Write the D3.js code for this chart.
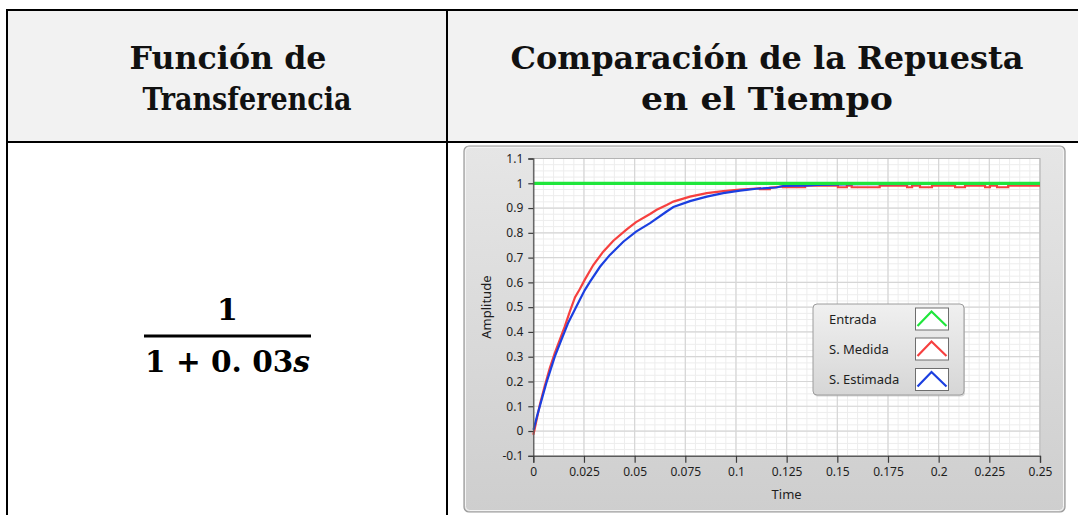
<!DOCTYPE html>
<html>
<head>
<meta charset="utf-8">
<script src="https://cdn.jsdelivr.net/npm/d3@7"></script>
<style>
  html, body { margin: 0; padding: 0; background: #fff; }
  svg { display: block; }
</style>
</head>
<body>
<svg id="c" width="1078" height="515"></svg>
<script>
// ---- table text ----
const headerLeft = ["Función de", "Transferencia"];
const headerRight = ["Comparación de la Repuesta", "en el Tiempo"];
const tfNumerator = "1";
const tfDenominator = ["1 + 0. 03", "s"];

// ---- chart labels ----
const seriesNames = ["Entrada", "S. Medida", "S. Estimada"];
const seriesColors = ["#1fe63b", "#f6403f", "#1b3fe0"];
const xTitle = "Time";
const yTitle = "Amplitude";
const xTicks = [0, 0.025, 0.05, 0.075, 0.1, 0.125, 0.15, 0.175, 0.2, 0.225, 0.25];
const xTickLabels = ["0", "0.025", "0.05", "0.075", "0.1", "0.125", "0.15", "0.175", "0.2", "0.225", "0.25"];
const yTicks = [-0.1, 0, 0.1, 0.2, 0.3, 0.4, 0.5, 0.6, 0.7, 0.8, 0.9, 1, 1.1];
const yTickLabels = ["-0.1", "0", "0.1", "0.2", "0.3", "0.4", "0.5", "0.6", "0.7", "0.8", "0.9", "1", "1.1"];

// ---- series: input step ----
const entradaT = [0, 0.25];
const entradaV = [1, 1];

// ---- series: measured response ----
const medidaT = [0, 0.0006, 0.0015, 0.0032, 0.0053, 0.0081, 0.0106, 0.013, 0.0155, 0.018,
  0.0206, 0.0229, 0.0255, 0.0296, 0.0345, 0.0395, 0.0461, 0.0507, 0.0576, 0.0609,
  0.0658, 0.0691, 0.0773, 0.0856, 0.0937, 0.102, 0.110, 0.1118, 0.1118, 0.1167, 0.1167,
  0.120, 0.1232, 0.1232, 0.1341, 0.1341,
  0.1503, 0.1503, 0.1547, 0.1547, 0.1571, 0.1571, 0.1709, 0.1709,
  0.1844, 0.1844, 0.1869, 0.1869, 0.1908, 0.1908, 0.1967, 0.1967,
  0.2081, 0.2081, 0.2130, 0.2130, 0.2229, 0.2229, 0.2253, 0.2253,
  0.2288, 0.2288, 0.2343, 0.2343, 0.25];
const medidaV = [-0.015, 0.005, 0.04, 0.105, 0.172, 0.253, 0.314, 0.367, 0.421, 0.482,
  0.540, 0.572, 0.612, 0.670, 0.724, 0.768, 0.814, 0.843, 0.876, 0.893,
  0.912, 0.926, 0.946, 0.960, 0.968, 0.974, 0.979, 0.980, 0.976, 0.976, 0.982,
  0.985, 0.987, 0.984, 0.984, 0.990,
  0.990, 0.984, 0.984, 0.990, 0.990, 0.984, 0.984, 0.990,
  0.990, 0.984, 0.984, 0.990, 0.990, 0.984, 0.984, 0.990,
  0.990, 0.984, 0.984, 0.990, 0.990, 0.984, 0.984, 0.990,
  0.990, 0.984, 0.984, 0.990, 0.990];

// ---- series: estimated model response ----
const estimadaT = [0, 0.0003, 0.002, 0.0064, 0.0106, 0.0138, 0.0171, 0.0212, 0.0254, 0.028,
  0.0329, 0.0378, 0.0444, 0.0507, 0.0576, 0.0658, 0.0691, 0.0773, 0.0856, 0.0937,
  0.102, 0.110, 0.120, 0.1232, 0.1341, 0.14, 0.16, 0.20, 0.25];
const estimadaV = [0.005, 0.011, 0.065, 0.193, 0.300, 0.367, 0.435, 0.502, 0.569, 0.603,
  0.663, 0.711, 0.764, 0.805, 0.839, 0.886, 0.904, 0.928, 0.946, 0.960,
  0.970, 0.978, 0.983, 0.989, 0.990, 0.993, 0.996, 0.997, 0.998];

const svg = d3.select("#c");
const defs = svg.append("defs");

// ---------------- table ----------------
const tbl = { left: 7, top: 10, split: 447, headBottom: 142, right: 1078, bottom: 515 };

svg.append("rect")
  .attr("x", tbl.left).attr("y", tbl.top)
  .attr("width", tbl.right - tbl.left).attr("height", tbl.headBottom - tbl.top)
  .attr("fill", "#f2f2f2");

const lines = [
  [tbl.left - 1, tbl.top, tbl.right, tbl.top],
  [tbl.left - 1, tbl.headBottom, tbl.right, tbl.headBottom],
  [tbl.left, tbl.top, tbl.left, tbl.bottom],
  [tbl.split, tbl.top, tbl.split, tbl.bottom]
];
svg.append("g").selectAll("line").data(lines).join("line")
  .attr("x1", d => d[0]).attr("y1", d => d[1])
  .attr("x2", d => d[2]).attr("y2", d => d[3])
  .attr("stroke", "#000").attr("stroke-width", 2);

const headFont = "'DejaVu Serif', serif";
const headLeftPos = [{ cx: 228, y: 69, w: 197 }, { cx: 247, y: 110, w: 209 }];
const headRightPos = [{ cx: 767, y: 69, w: 513 }, { cx: 767, y: 110, w: 252 }];
function headerText(arr, pos) {
  svg.append("g").selectAll("text").data(arr).join("text")
    .attr("x", (d, i) => pos[i].cx - pos[i].w / 2)
    .attr("y", (d, i) => pos[i].y)
    .attr("textLength", (d, i) => pos[i].w)
    .attr("lengthAdjust", "spacingAndGlyphs")
    .attr("font-family", headFont)
    .attr("font-weight", "bold")
    .attr("font-size", 31)
    .attr("fill", "#111")
    .text(d => d);
}
headerText(headerLeft, headLeftPos);
headerText(headerRight, headRightPos);

// transfer function fraction
const fx0 = 144, fx1 = 311, fy = 336;
svg.append("text")
  .attr("x", (fx0 + fx1) / 2).attr("y", 320)
  .attr("text-anchor", "middle")
  .attr("font-family", headFont).attr("font-weight", "bold").attr("font-size", 30)
  .text(tfNumerator);
svg.append("line")
  .attr("x1", fx0).attr("x2", fx1).attr("y1", fy).attr("y2", fy)
  .attr("stroke", "#000").attr("stroke-width", 3);
const den = svg.append("text")
  .attr("x", fx0 + 1).attr("y", 372)
  .attr("textLength", fx1 - fx0 - 2)
  .attr("lengthAdjust", "spacingAndGlyphs")
  .attr("font-family", headFont).attr("font-weight", "bold").attr("font-size", 30);
den.append("tspan").text(tfDenominator[0]);
den.append("tspan").attr("font-style", "italic").text(tfDenominator[1]);

// ---------------- chart frame ----------------
const frame = { x: 464, y: 146, w: 601, h: 366 };
const fg = defs.append("linearGradient").attr("id", "frameGrad")
  .attr("x1", 0).attr("y1", 0).attr("x2", 0).attr("y2", 1);
fg.append("stop").attr("offset", 0).attr("stop-color", "#e6e6e6");
fg.append("stop").attr("offset", 1).attr("stop-color", "#cecece");
svg.append("rect")
  .attr("x", frame.x).attr("y", frame.y).attr("width", frame.w).attr("height", frame.h)
  .attr("rx", 5).attr("fill", "url(#frameGrad)")
  .attr("stroke", "#9a9a9a").attr("stroke-width", 1.2);
svg.append("rect")
  .attr("x", frame.x + 1.5).attr("y", frame.y + 1.5).attr("width", frame.w - 3).attr("height", frame.h - 3)
  .attr("rx", 4).attr("fill", "none")
  .attr("stroke", "#f4f4f4").attr("stroke-width", 1);

// ---------------- plot area ----------------
const plot = { left: 533.3, right: 1040, top: 158.5, bottom: 455.8 };
const x = d3.scaleLinear().domain([0, 0.25]).range([plot.left, plot.right]);
const y = d3.scaleLinear().domain([-0.1, 1.1]).range([plot.bottom, plot.top]);

svg.append("rect")
  .attr("x", plot.left).attr("y", plot.top)
  .attr("width", plot.right - plot.left).attr("height", plot.bottom - plot.top)
  .attr("fill", "#fff");

const grid = svg.append("g");
const xMinor = d3.range(0, 0.25 + 1e-9, 0.005);
const yMinor = d3.range(-0.1, 1.1 + 1e-9, 0.025);
grid.selectAll(".xm").data(xMinor).join("line")
  .attr("x1", d => x(d)).attr("x2", d => x(d))
  .attr("y1", plot.top).attr("y2", plot.bottom)
  .attr("stroke", "#ededed").attr("stroke-width", 1);
grid.selectAll(".ym").data(yMinor).join("line")
  .attr("y1", d => y(d)).attr("y2", d => y(d))
  .attr("x1", plot.left).attr("x2", plot.right)
  .attr("stroke", "#ededed").attr("stroke-width", 1);
grid.selectAll(".xM").data(xTicks).join("line")
  .attr("x1", d => x(d)).attr("x2", d => x(d))
  .attr("y1", plot.top).attr("y2", plot.bottom)
  .attr("stroke", "#d6d6d6").attr("stroke-width", 1.2);
grid.selectAll(".yM").data(yTicks).join("line")
  .attr("y1", d => y(d)).attr("y2", d => y(d))
  .attr("x1", plot.left).attr("x2", plot.right)
  .attr("stroke", "#d6d6d6").attr("stroke-width", 1.2);

svg.append("rect")
  .attr("x", plot.left).attr("y", plot.top)
  .attr("width", plot.right - plot.left).attr("height", plot.bottom - plot.top)
  .attr("fill", "none").attr("stroke", "#b4b4b4").attr("stroke-width", 1);

// ---------------- series ----------------
const lineGen = d3.line().x(d => x(d[0])).y(d => y(d[1]));
const zipPts = (t, v) => t.map((d, i) => [d, v[i]]);
const plotG = svg.append("g");
plotG.append("path").datum(zipPts(medidaT, medidaV))
  .attr("d", lineGen).attr("fill", "none")
  .attr("stroke", seriesColors[1]).attr("stroke-width", 2.2).attr("stroke-linejoin", "miter");
plotG.append("path").datum(zipPts(estimadaT, estimadaV))
  .attr("d", lineGen).attr("fill", "none")
  .attr("stroke", seriesColors[2]).attr("stroke-width", 2.2).attr("stroke-linejoin", "miter");
plotG.append("path").datum(zipPts(entradaT, entradaV))
  .attr("d", lineGen).attr("fill", "none")
  .attr("stroke", seriesColors[0]).attr("stroke-width", 3.2);

// ---------------- axes ----------------
const axisFont = "'Noto Sans', 'Open Sans', sans-serif";
const yAxis = svg.append("g").attr("transform", `translate(${plot.left},0)`)
  .call(d3.axisLeft(y).tickValues(yTicks).tickFormat((d, i) => yTickLabels[i]).tickSize(5).tickPadding(5));
const xAxis = svg.append("g").attr("transform", `translate(0,${plot.bottom})`)
  .call(d3.axisBottom(x).tickValues(xTicks).tickFormat((d, i) => xTickLabels[i]).tickSize(7).tickPadding(5));
[yAxis, xAxis].forEach(g => {
  g.selectAll("path.domain").attr("stroke", "#5a5a5a").attr("stroke-width", 1.3);
  g.selectAll(".tick line").attr("stroke", "#3a3a3a").attr("stroke-width", 1.2);
  g.selectAll(".tick text").attr("font-family", axisFont).attr("font-size", 12).attr("fill", "#1e1e1e");
});

svg.append("text")
  .attr("x", (plot.left + plot.right) / 2).attr("y", 499)
  .attr("text-anchor", "middle")
  .attr("font-family", axisFont).attr("font-size", 13).attr("fill", "#1e1e1e")
  .text(xTitle);
svg.append("text")
  .attr("transform", `translate(491,${(plot.top + plot.bottom) / 2}) rotate(-90)`)
  .attr("text-anchor", "middle")
  .attr("font-family", axisFont).attr("font-size", 13).attr("fill", "#1e1e1e")
  .text(yTitle);

// ---------------- legend ----------------
const lg = { x: 813, y: 304, w: 151, h: 91 };
const lgGrad = defs.append("linearGradient").attr("id", "lgGrad")
  .attr("x1", 0).attr("y1", 0).attr("x2", 0).attr("y2", 1);
lgGrad.append("stop").attr("offset", 0).attr("stop-color", "#f0f0f0");
lgGrad.append("stop").attr("offset", 1).attr("stop-color", "#d6d6d6");
svg.append("rect")
  .attr("x", lg.x + 1).attr("y", lg.y + 1.5).attr("width", lg.w).attr("height", lg.h)
  .attr("rx", 4).attr("fill", "#bdbdbd").attr("opacity", 0.6);
svg.append("rect")
  .attr("x", lg.x).attr("y", lg.y).attr("width", lg.w).attr("height", lg.h)
  .attr("rx", 4).attr("fill", "url(#lgGrad)")
  .attr("stroke", "#9c9c9c").attr("stroke-width", 1);

const rowY = [319, 349, 379.5];
const legendG = svg.append("g");
const rows = legendG.selectAll("g").data(seriesNames).join("g")
  .attr("transform", (d, i) => `translate(0,${rowY[i]})`);
rows.append("text")
  .attr("x", 829).attr("y", 0).attr("dy", "0.35em")
  .attr("font-family", axisFont).attr("font-size", 13).attr("fill", "#1e1e1e")
  .text(d => d);
rows.append("rect")
  .attr("x", 915.5).attr("y", -11).attr("width", 33).attr("height", 22)
  .attr("fill", "#fff").attr("stroke", "#6e6e6e").attr("stroke-width", 1);
rows.append("path")
  .attr("d", "M917.5,7 L931.5,-7.5 L946.5,7")
  .attr("fill", "none")
  .attr("stroke", (d, i) => seriesColors[i]).attr("stroke-width", 2.2);
</script>
</body>
</html>
